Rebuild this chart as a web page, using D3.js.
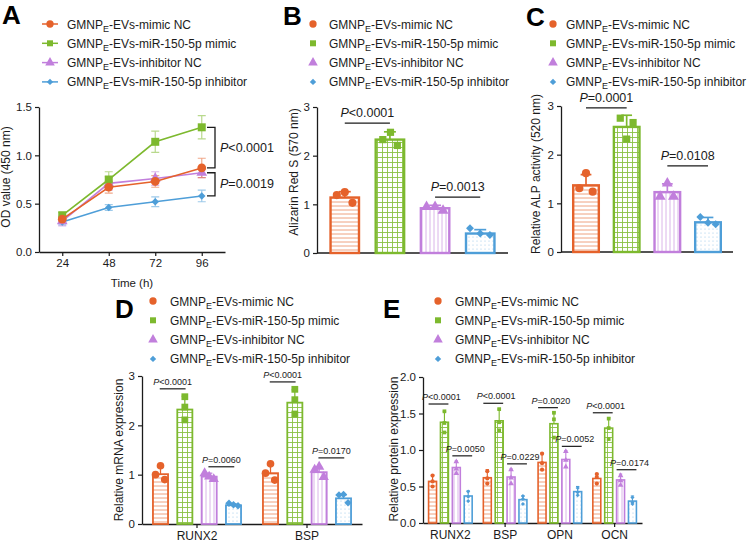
<!DOCTYPE html>
<html><head><meta charset="utf-8">
<script src="https://cdn.jsdelivr.net/npm/d3@7"></script>
<style>body{margin:0;background:#fff} svg{font-family:"Liberation Sans", Arial, sans-serif}</style>
</head><body><svg id="c" width="748" height="544"></svg>
<script>
// ---------- data ----------
const seriesLabels = ["-EVs-mimic NC","-EVs-miR-150-5p mimic","-EVs-inhibitor NC","-EVs-miR-150-5p inhibitor"];
const seriesColors = ["#E5622B","#7DB92E","#C17FDC","#4E9ED8"];

// Panel A
const timePoints = [24,48,72,96];
const odMean = [[0.34,0.67,0.73,0.87],[0.38,0.75,1.14,1.29],[0.32,0.71,0.76,0.82],[0.31,0.46,0.52,0.58]];
const odSD = [[0.03,0.06,0.06,0.10],[0.03,0.08,0.11,0.12],[0.05,0.07,0.07,0.05],[0.03,0.03,0.05,0.06]];
const odTicks = [0,0.5,1.0,1.5];
const odCompare = [[1,0,"<0.0001"],[2,3,"=0.0019"]];

// Panel B
const arsMean = [1.14,2.33,0.92,0.40];
const arsSD = [0.12,0.16,0.06,0.08];
const arsPoints = [[1.19,1.25,1.03],[2.33,2.48,2.21],[0.95,0.95,0.87],[0.51,0.40,0.37]];
const arsTicks = [0,1,2,3];
const arsCompare = [[0,1,2.67,"<0.0001"],[2,3,1.15,"=0.0013"]];

// Panel C
const alpMean = [1.37,2.57,1.23,0.61];
const alpSD = [0.22,0.24,0.17,0.10];
const alpPoints = [[1.31,1.62,1.24],[2.75,2.32,2.66],[1.14,1.41,1.14],[0.72,0.60,0.57]];
const alpTicks = [0,1,2,3];
const alpCompare = [[0,1,2.96,"=0.0001"],[2,3,1.77,"=0.0108"]];

// Panel D
const mrnaGenes = ["RUNX2","BSP"];
const mrnaMean = [[1.01,2.32,0.96,0.38],[1.03,2.46,1.05,0.52]];
const mrnaSD = [[0.15,0.27,0.07,0.03],[0.18,0.26,0.10,0.07]];
const mrnaPoints = [
  [[1.00,1.18,0.90],[2.58,2.37,2.11],[1.03,0.96,0.91],[0.42,0.39,0.37]],
  [[1.03,1.22,0.89],[2.73,2.52,2.23],[1.10,1.16,0.95],[0.59,0.60,0.43]]
];
const mrnaTicks = [0,1,2,3];
const mrnaCompare = [[0,0,1,2.74,"<0.0001"],[0,2,3,1.16,"=0.0060"],[1,0,1,2.88,"<0.0001"],[1,2,3,1.34,"=0.0170"]];

// Panel E
const protGenes = ["RUNX2","BSP","OPN","OCN"];
const protMean = [[0.57,1.38,0.76,0.37],[0.62,1.40,0.63,0.32],[0.83,1.36,0.87,0.43],[0.61,1.30,0.59,0.30]];
const protSD = [[0.09,0.15,0.09,0.07],[0.11,0.16,0.11,0.05],[0.13,0.16,0.12,0.07],[0.06,0.14,0.08,0.07]];
const protPoints = [
  [[0.65,0.57,0.50],[1.53,1.37,1.24],[0.84,0.74,0.68],[0.43,0.36,0.30]],
  [[0.71,0.61,0.54],[1.56,1.38,1.27],[0.73,0.62,0.54],[0.37,0.33,0.26]],
  [[0.95,0.82,0.73],[1.51,1.42,1.17],[0.98,0.86,0.77],[0.48,0.42,0.38]],
  [[0.67,0.63,0.54],[1.43,1.30,1.15],[0.65,0.58,0.52],[0.35,0.28,0.26]]
];
const protTicks = [0,0.5,1.0,1.5,2.0];
const protCompare = [[0,0,1,1.63,"<0.0001"],[0,2,3,0.92,"=0.0050"],[1,0,1,1.64,"<0.0001"],[1,2,3,0.81,"=0.0229"],
                     [2,0,1,1.58,"=0.0020"],[2,2,3,1.05,"=0.0052"],[3,0,1,1.51,"<0.0001"],[3,2,3,0.73,"=0.0174"]];

// ---------- helpers ----------
const svg = d3.select("#c");
const defs = svg.append("defs");
const INK = "#1b1b1b";

(function patterns(){
  let p = defs.append("pattern").attr("id","p0").attr("patternUnits","userSpaceOnUse").attr("width",6).attr("height",4);
  p.append("rect").attr("width",6).attr("height",4).attr("fill","#fff");
  p.append("line").attr("x1",0).attr("x2",6).attr("y1",2).attr("y2",2).attr("stroke",seriesColors[0]).attr("stroke-width",0.8).attr("opacity",0.75);
  p = defs.append("pattern").attr("id","p1").attr("patternUnits","userSpaceOnUse").attr("width",5).attr("height",5);
  p.append("rect").attr("width",5).attr("height",5).attr("fill","#fff");
  p.append("path").attr("d","M0 2.5H5M2.5 0V5").attr("stroke",seriesColors[1]).attr("stroke-width",0.9).attr("opacity",0.9);
  p = defs.append("pattern").attr("id","p2").attr("patternUnits","userSpaceOnUse").attr("width",4).attr("height",6);
  p.append("rect").attr("width",4).attr("height",6).attr("fill","#fff");
  p.append("line").attr("x1",2).attr("x2",2).attr("y1",0).attr("y2",6).attr("stroke",seriesColors[2]).attr("stroke-width",0.8).attr("opacity",0.75);
  p = defs.append("pattern").attr("id","p3").attr("patternUnits","userSpaceOnUse").attr("width",4).attr("height",4);
  p.append("rect").attr("width",4).attr("height",4).attr("fill","#fff");
  p.append("circle").attr("cx",1).attr("cy",1).attr("r",0.55).attr("fill",seriesColors[3]).attr("opacity",0.6);
})();

const symTypes = [d3.symbolCircle,d3.symbolSquare,d3.symbolTriangle,d3.symbolSquare];
function symbol(g, j, x, y, size){
  const s = g.append("path").attr("d", d3.symbol().type(symTypes[j]).size(size)()).attr("fill",seriesColors[j]);
  s.attr("transform", `translate(${x},${y})` + (j===3 ? " rotate(45)" : ""));
  return s;
}
function legend(x, textX, y0, withLine){
  const g = svg.append("g");
  seriesLabels.forEach((lab,j)=>{
    const y = y0 + j*19.3;
    if (withLine) g.append("line").attr("x1",x-8).attr("x2",x+8).attr("y1",y).attr("y2",y).attr("stroke",seriesColors[j]).attr("stroke-width",1.5);
    symbol(g, j, x, y, [j===0?42:38, 36, 40, 20][j]);
    const t = g.append("text").attr("x",textX).attr("y",y+4.5).attr("font-size",12).attr("fill",INK);
    t.append("tspan").text("GMNP");
    t.append("tspan").attr("font-size",9).attr("dy",3).text("E");
    t.append("tspan").attr("dy",-3).text(lab);
  });
}
function letter(txt,x,y){
  svg.append("text").attr("x",x).attr("y",y).attr("font-size",26).attr("font-weight",700).attr("fill","#000").text(txt);
}
function ylabel(txt,x,y){
  svg.append("text").attr("transform",`translate(${x},${y}) rotate(-90)`).attr("text-anchor","middle").attr("font-size",12).attr("fill",INK).text(txt);
}
function styleAxis(g, fs){
  g.selectAll("path.domain").attr("stroke",INK).attr("stroke-width",1.3);
  g.selectAll(".tick line").attr("stroke",INK).attr("stroke-width",1.2);
  g.selectAll(".tick text").attr("font-size",fs||11.5).attr("fill",INK).attr("font-family",null);
}
function pText(g, x, y, label, fs, anchor){
  const t = g.append("text").attr("x",x).attr("y",y).attr("font-size",fs).attr("fill",INK).attr("text-anchor",anchor||"middle");
  t.append("tspan").attr("font-style","italic").text("P");
  t.append("tspan").text(label);
  return t;
}
function yAxis(y, x, ticks, fmt){
  const g = svg.append("g").attr("transform",`translate(${x},0)`)
    .call(d3.axisLeft(y).tickValues(ticks).tickFormat(fmt).tickSize(4).tickSizeOuter(0).tickPadding(3));
  styleAxis(g); return g;
}
function drawBar(g, j, cx, bw, y, mean, sd, pts, offs, psize, sw){
  g.append("rect").attr("x",cx-bw/2).attr("y",y(mean)).attr("width",bw).attr("height",y(0)-y(mean))
    .attr("fill",`url(#p${j})`).attr("stroke",seriesColors[j]).attr("stroke-width",sw);
  const cw = bw*0.42;
  g.append("line").attr("x1",cx).attr("x2",cx).attr("y1",y(mean)).attr("y2",y(mean+sd)).attr("stroke",seriesColors[j]).attr("stroke-width",sw*0.7);
  g.append("line").attr("x1",cx-cw/2).attr("x2",cx+cw/2).attr("y1",y(mean+sd)).attr("y2",y(mean+sd)).attr("stroke",seriesColors[j]).attr("stroke-width",sw*0.7);
  pts.forEach((v,k)=> symbol(g, j, cx+offs[k], y(v), j===3 ? psize*0.6 : psize));
}

// ---------- Panel A ----------
letter("A",2,24);
legend(50,67,24,true);
const xA = d3.scaleLinear().domain([12,108]).range([39,225]);
const yA = d3.scaleLinear().domain([0,1.5]).range([252,107]);
yAxis(yA,39,odTicks,d3.format(".1f"));
const gxA = svg.append("g").attr("transform","translate(0,252)")
  .call(d3.axisBottom(xA).tickValues(timePoints).tickSize(4).tickSizeOuter(0).tickPadding(3));
styleAxis(gxA);
svg.append("text").attr("x",132).attr("y",287).attr("text-anchor","middle").attr("font-size",11.5).attr("fill",INK).text("Time (h)");
ylabel("OD value (450 nm)",10,177);
const gA = svg.append("g");
[3,2,1,0].forEach(j=>{
  odMean[j].forEach((m,i)=>{
    const x = xA(timePoints[i]), t=yA(m+odSD[j][i]), b=yA(m-odSD[j][i]);
    gA.append("path").attr("d",`M${x-4},${t}H${x+4}M${x},${t}V${b}M${x-4},${b}H${x+4}`)
      .attr("stroke",seriesColors[j]).attr("stroke-width",1.2).attr("fill","none").attr("opacity",0.55);
  });
});
[3,2,1,0].forEach(j=>{
  gA.append("path").datum(odMean[j]).attr("fill","none").attr("stroke",seriesColors[j]).attr("stroke-width",1.6)
    .attr("d", d3.line().x((d,i)=>xA(timePoints[i])).y(d=>yA(d)));
  odMean[j].forEach((m,i)=> symbol(gA, j, xA(timePoints[i]), yA(m), [60,64,50,28][j]));
});
odCompare.forEach(([a,b,lab])=>{
  const y1 = yA(odMean[a][3]), y2 = yA(odMean[b][3]);
  gA.append("path").attr("d",`M207,${y1}H215V${y2}H207`).attr("stroke",INK).attr("stroke-width",1.3).attr("fill","none");
  pText(gA, 220, (y1+y2)/2+4, lab, 12.5, "start");
});

// ---------- Panel B / C ----------
function simpleBarPanel(x0,x1,yTop,yBot,mean,sd,pts,ticks,compare,offs){
  const y = d3.scaleLinear().domain([0,3]).range([yBot,yTop]);
  const xb = d3.scaleBand().domain(d3.range(4)).range([x0,x1]).paddingInner(0.37).paddingOuter(0.3);
  yAxis(y,x0,ticks,d3.format("d"));
  svg.append("line").attr("x1",x0).attr("x2",x1).attr("y1",yBot).attr("y2",yBot).attr("stroke",INK).attr("stroke-width",1.3);
  const g = svg.append("g");
  const bw = xb.bandwidth();
  d3.range(4).forEach(j=> drawBar(g,j,xb(j)+bw/2,bw,y,mean[j],sd[j],pts[j],offs[j].map(o=>o*bw),52,2.4));
  compare.forEach(([a,b,lv,lab])=>{
    const xa = xb(a)+bw/2, xc = xb(b)+bw/2;
    g.append("line").attr("x1",xa).attr("x2",xc).attr("y1",y(lv)).attr("y2",y(lv)).attr("stroke",INK).attr("stroke-width",1.3);
    pText(g,(xa+xc)/2,y(lv)-6,lab,12.5);
  });
}
letter("B",283,25);
legend(313,329,24,false);
ylabel("Alizarin Red S (570 nm)",298,172);
simpleBarPanel(317,508,107,253,arsMean,arsSD,arsPoints,arsTicks,arsCompare,
  [[-0.28,0,0.27],[-0.25,0.02,0.26],[-0.3,0,0.28],[-0.36,0,0.34]]);

letter("C",526,26);
legend(553,566,24,false);
ylabel("Relative ALP activity (520 nm)",540,174);
simpleBarPanel(561,733,106,252,alpMean,alpSD,alpPoints,alpTicks,alpCompare,
  [[-0.26,0,0.26],[-0.25,0,0.25],[-0.28,0,0.24],[-0.3,0,0.3]]);

// ---------- Panel D / E ----------
function groupedPanel(x0,x1,yTop,yBot,ymax,genes,mean,sd,pts,ticks,fmt,compare,inner,bwOpts){
  const y = d3.scaleLinear().domain([0,ymax]).range([yBot,yTop]);
  const xg = d3.scaleBand().domain(genes).range([x0,x1]).padding(0);
  const xs = d3.scaleBand().domain(d3.range(4)).range([0,xg.bandwidth()]).paddingInner(inner[0]).paddingOuter(inner[1]);
  yAxis(y,x0,ticks,fmt);
  const gx = svg.append("g").attr("transform",`translate(0,${yBot})`)
    .call(d3.axisBottom(xg).tickSize(4).tickSizeOuter(0).tickPadding(3));
  styleAxis(gx, 12);
  const g = svg.append("g");
  const bw = xs.bandwidth();
  genes.forEach((gn,gi)=>{
    d3.range(4).forEach(j=>{
      const cx = xg(gn)+xs(j)+bw/2;
      drawBar(g,j,cx,bw,y,mean[gi][j],sd[gi][j],pts[gi][j],bwOpts.offs[j].map(o=>o*bw),bwOpts.psize,bwOpts.sw);
    });
  });
  compare.forEach(([gi,a,b,lv,lab])=>{
    const xa = xg(genes[gi])+xs(a)+bw/2 - bwOpts.ext*bw, xc = xg(genes[gi])+xs(b)+bw/2 + bwOpts.ext*bw;
    g.append("line").attr("x1",xa).attr("x2",xc).attr("y1",y(lv)).attr("y2",y(lv)).attr("stroke",INK).attr("stroke-width",1.2);
    pText(g,(xa+xc)/2 + bwOpts.tshift,y(lv)-4,lab,9);
  });
}
letter("D",115,318);
legend(153,170,301,false);
ylabel("Relative mRNA expression",123,450);
groupedPanel(142,362,376,524,3,mrnaGenes,mrnaMean,mrnaSD,mrnaPoints,mrnaTicks,d3.format("d"),mrnaCompare,[0.38,0.45],
  {offs:[[-0.33,0,0.28],[0,0,0],[-0.3,0,0.3],[-0.3,0,0.3]],psize:46,sw:1.8,ext:0.05,tshift:0});

letter("E",383,318);
legend(438,455,301,false);
ylabel("Relative protein expression",398,449);
groupedPanel(423,642,377,523,2,protGenes,protMean,protSD,protPoints,protTicks,d3.format(".1f"),protCompare,[0.33,0.47],
  {offs:[[0,0,0],[0,0,0],[0,0,0],[0,0,0]],psize:14,sw:1.6,ext:0.5,tshift:3});
</script></body></html>
